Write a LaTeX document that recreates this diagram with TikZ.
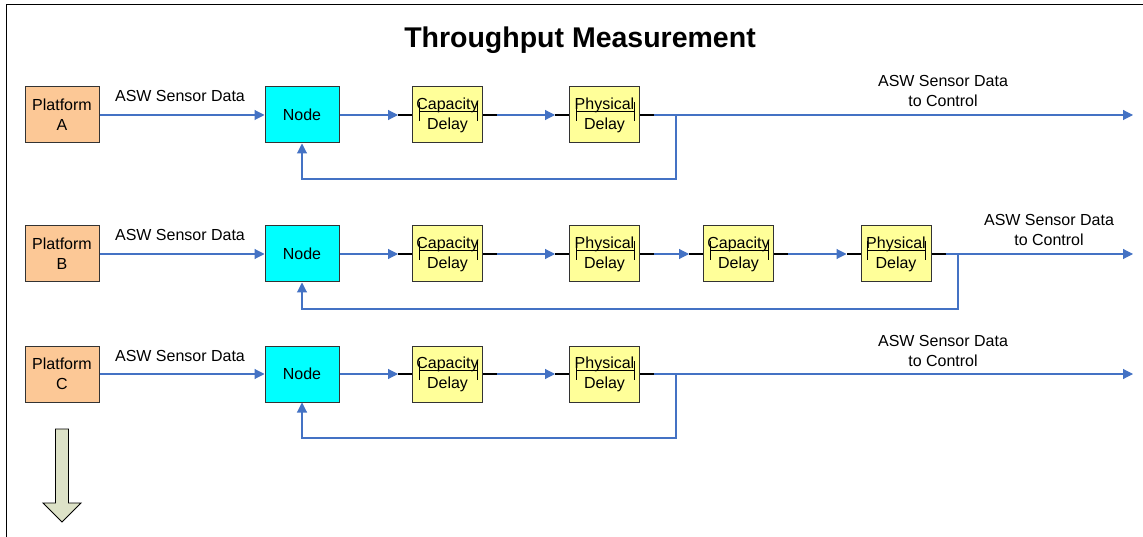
\documentclass[tikz,border=0pt]{standalone}
\usepackage{fontspec}
\setmainfont{Liberation Sans}
\usetikzlibrary{arrows.meta,calc}
\definecolor{platfill}{RGB}{252,200,150}
\definecolor{delayfill}{RGB}{255,255,153}
\definecolor{nodefill}{RGB}{0,255,255}
\definecolor{flowblue}{RGB}{68,114,196}
\definecolor{bigarrow}{RGB}{221,226,199}
\newcommand\delaynode[5]{%
  \node[dl] (#1) at (#2,#3) {#4\\#5};
  \draw[brk] ($(#1.west)+(7,-3.5)$) -- ($(#1.east)+(-6,-3.5)$);
  \draw[brk] ($(#1.west)+(7,-13)$) -- ($(#1.west)+(7,6)$);
  \draw[brk] ($(#1.east)+(-6,-13)$) -- ($(#1.east)+(-6,6)$);
  \draw[stub] (#1.west) -- ++(-14,0);
  \draw[stub] (#1.east) -- ++(14,0);
}
\begin{document}
\begin{tikzpicture}[x=1pt,y=-1pt,
  box/.style={draw=black!80,line width=1pt,minimum width=74pt,minimum height=56pt,inner sep=0pt,align=center,font=\fontsize{16}{20}\selectfont},
  plat/.style={box,fill=platfill},
  nd/.style={box,fill=nodefill},
  dl/.style={box,fill=delayfill,minimum width=70pt},
  flow/.style={draw=flowblue,line width=1.1pt,-{Triangle[length=10pt,width=10pt]}},
  stub/.style={draw=black,line width=1.1pt},
  brk/.style={draw=black,line width=0.9pt},
  lbl/.style={font=\fontsize{16}{20}\selectfont,align=center,inner sep=0pt}]
\useasboundingbox (0,0) rectangle (1143,537);
\fill[white] (0,0) rectangle (1143,537);
% frame
\draw[line width=1.5pt] (6.5,540) -- (6.5,4.5) -- (1146,4.5);
% title
\node[font=\fontsize{28.5}{32}\selectfont\bfseries,anchor=base] (title) at (580,48) {Throughput Measurement};

% ---------- Row A ----------
\node[plat] (platA) at (62,115) {Platform\\A};
\node[nd] (nA) at (302,115) {Node};
\delaynode{cA}{447.5}{115}{Capacity}{Delay}
\delaynode{pA}{604.5}{115}{Physical}{Delay}
\coordinate (eA) at (1133,115);
\coordinate (fA) at (676,115);
\draw[flow] (platA) -- (nA);
\draw[flow,shorten >=14pt] (nA.east) -- (cA.west);
\draw[flow,shorten <=14pt,shorten >=14pt] (cA.east) -- (pA.west);
\draw[flow,shorten <=14pt] (pA.east) -- (eA);
\draw[flow] (fA) -- (676,179) -| (nA.south);
\node[lbl,anchor=base] (lA) at (180,102) {ASW Sensor Data};
\node[lbl] (tA) at (943,91) {ASW Sensor Data\\to Control};

% ---------- Row B ----------
\node[plat] (platB) at (62,254) {Platform\\B};
\node[nd] (nB) at (302,254) {Node};
\delaynode{cB}{447.5}{254}{Capacity}{Delay}
\delaynode{pB}{604.5}{254}{Physical}{Delay}
\delaynode{c2B}{738.5}{254}{Capacity}{Delay}
\delaynode{p2B}{896}{254}{Physical}{Delay}
\coordinate (eB) at (1133,254);
\coordinate (fB) at (958,254);
\draw[flow] (platB) -- (nB);
\draw[flow,shorten >=14pt] (nB.east) -- (cB.west);
\draw[flow,shorten <=14pt,shorten >=14pt] (cB.east) -- (pB.west);
\draw[flow,shorten <=14pt,shorten >=14pt] (pB.east) -- (c2B.west);
\draw[flow,shorten <=14pt,shorten >=14pt] (c2B.east) -- (p2B.west);
\draw[flow,shorten <=14pt] (p2B.east) -- (eB);
\draw[flow] (fB) -- (958,309) -| (nB.south);
\node[lbl,anchor=base] (lB) at (180,241) {ASW Sensor Data};
\node[lbl] (tB) at (1049,230) {ASW Sensor Data\\to Control};

% ---------- Row C ----------
\node[plat] (platC) at (62,374) {Platform\\C};
\node[nd] (nC) at (302,374) {Node};
\delaynode{cC}{447.5}{374}{Capacity}{Delay}
\delaynode{pC}{604.5}{374}{Physical}{Delay}
\coordinate (eC) at (1133,374);
\coordinate (fC) at (676,374);
\draw[flow] (platC) -- (nC);
\draw[flow,shorten >=14pt] (nC.east) -- (cC.west);
\draw[flow,shorten <=14pt,shorten >=14pt] (cC.east) -- (pC.west);
\draw[flow,shorten <=14pt] (pC.east) -- (eC);
\draw[flow] (fC) -- (676,438) -| (nC.south);
\node[lbl,anchor=base] (lC) at (180,361) {ASW Sensor Data};
\node[lbl] (tC) at (943,351) {ASW Sensor Data\\to Control};

% big down arrow
\draw[fill=bigarrow,line width=0.9pt,line join=miter] (55.5,429) -- (68.5,429) -- (68.5,503) -- (81,503) -- (62,522) -- (43,503) -- (55.5,503) -- cycle;
\end{tikzpicture}
\end{document}
